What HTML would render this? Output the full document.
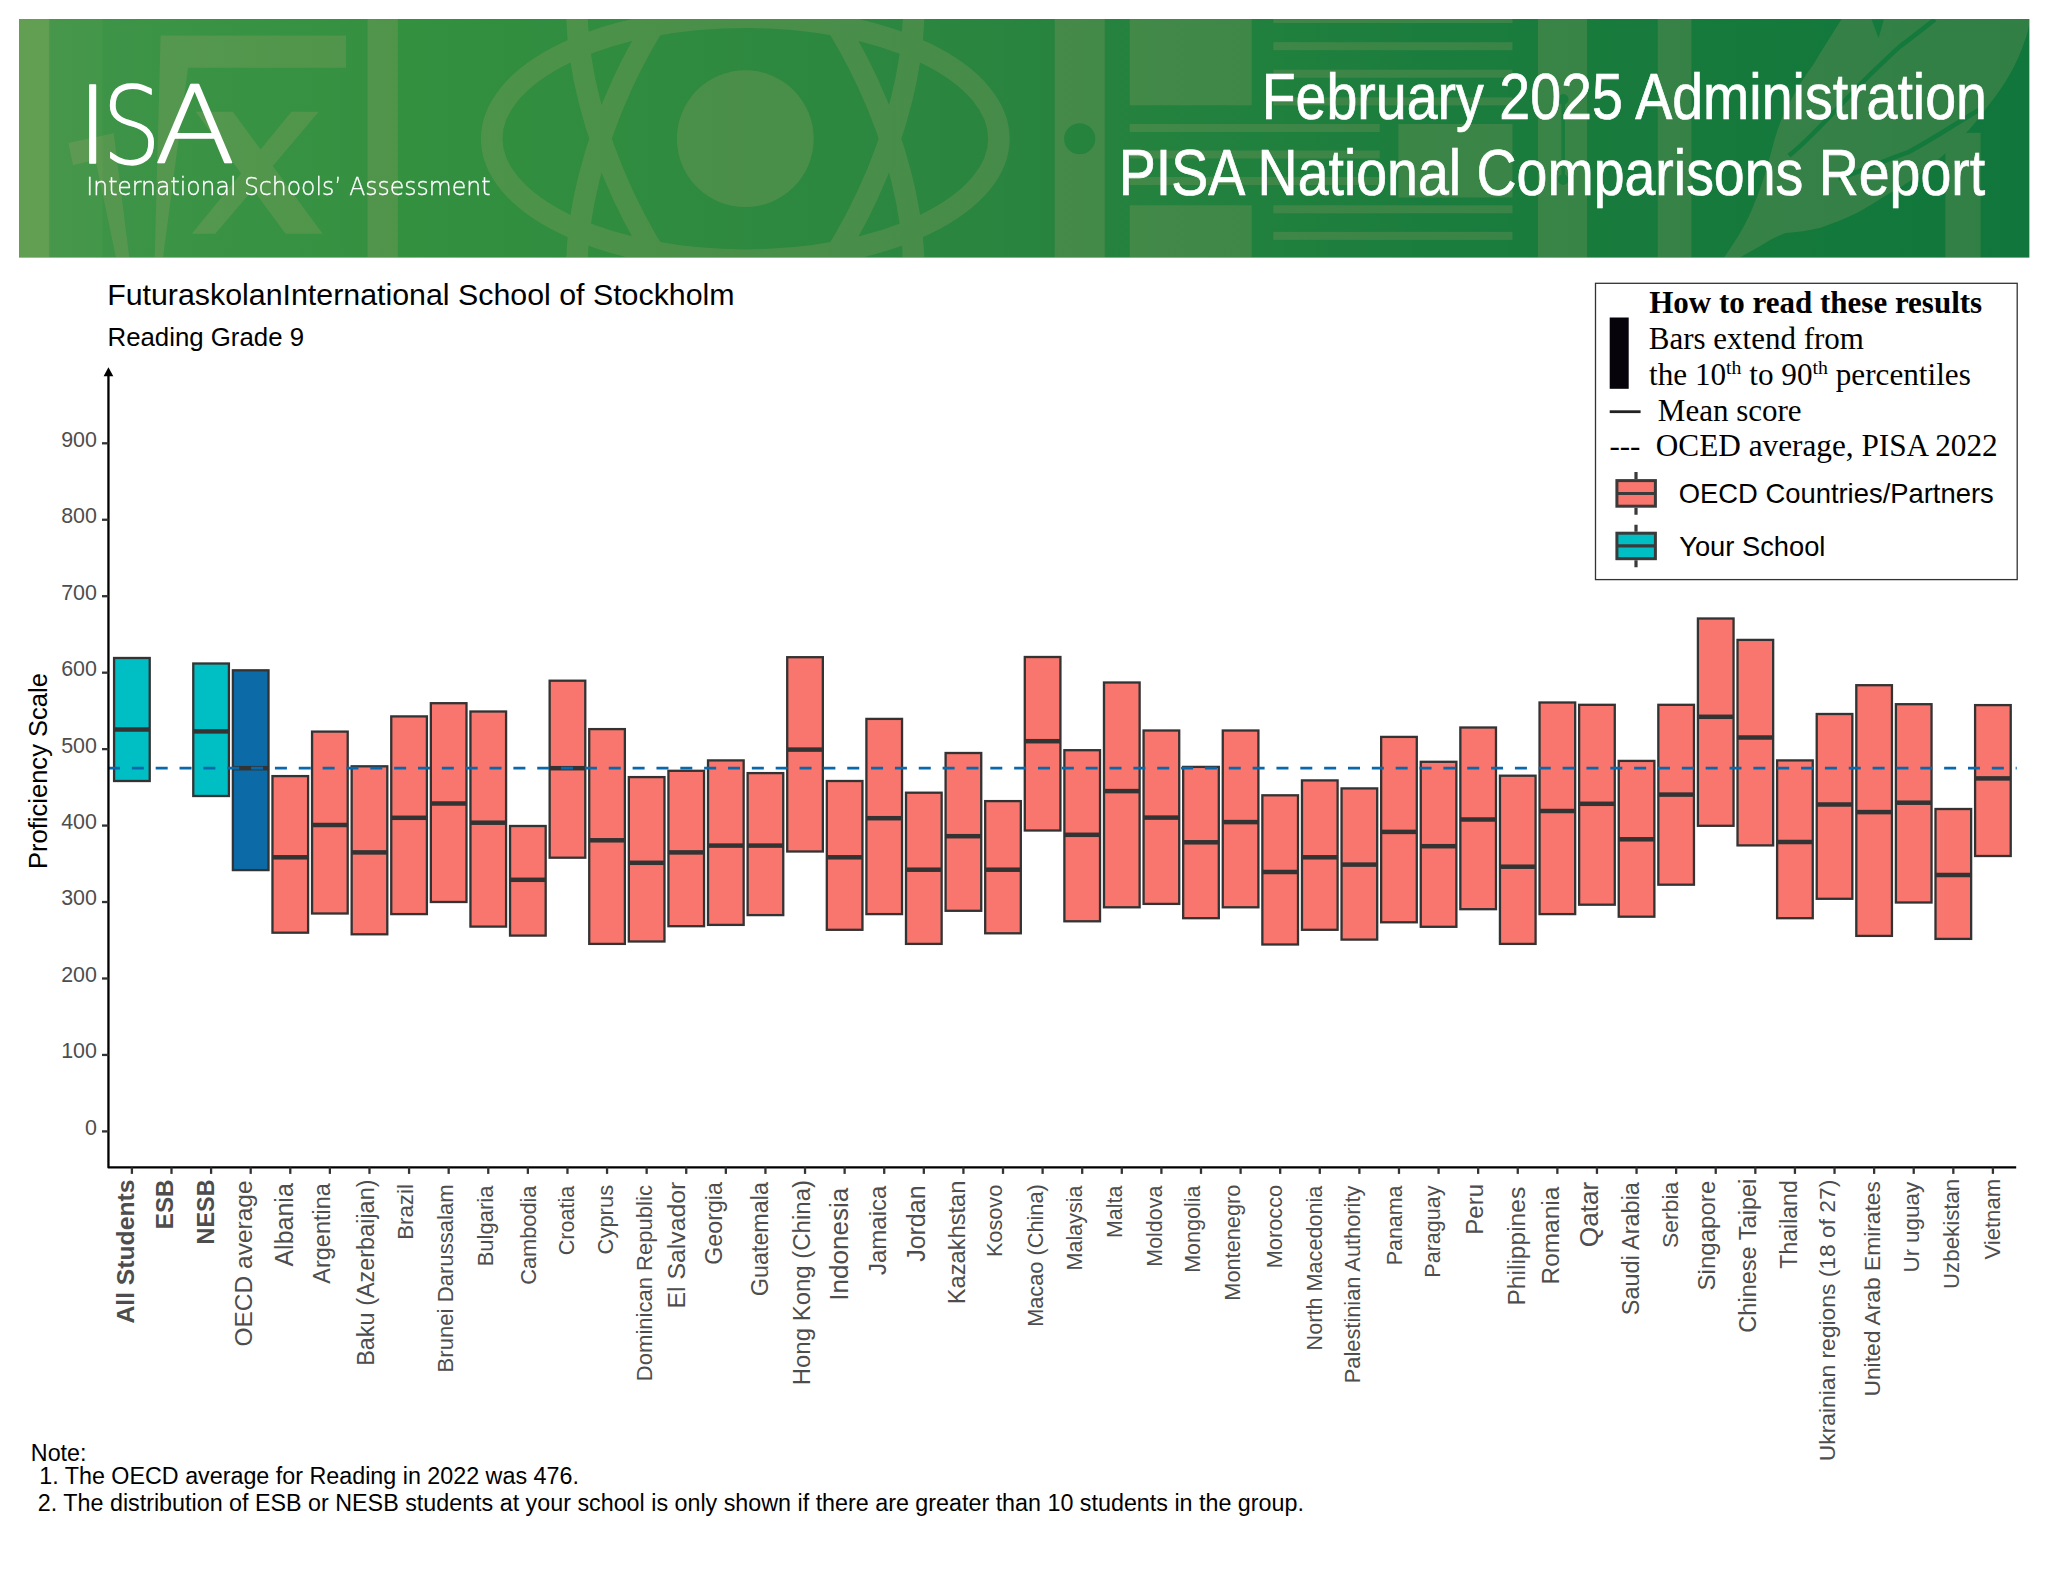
<!DOCTYPE html>
<html lang="en"><head><meta charset="utf-8"><title>PISA National Comparisons Report</title>
<style>html,body{margin:0;padding:0;background:#fff}svg{display:block}text{font-family:"Liberation Sans", Arial, Helvetica, sans-serif}.sf{font-family:"Liberation Serif", "Times New Roman", serif}.xl{fill:#4d4d4d}.lt{font-family:"DejaVu Sans Light","DejaVu Sans","Liberation Sans", Arial, Helvetica, sans-serif;font-weight:200}</style></head><body>
<svg width="2048" height="1583" viewBox="0 0 2048 1583">
<rect width="2048" height="1583" fill="#fff"/>
<defs><linearGradient id="bg" x1="0" x2="1" y1="0" y2="0"><stop offset="0" stop-color="#40954a"/><stop offset="0.2" stop-color="#33903f"/><stop offset="0.45" stop-color="#2b863f"/><stop offset="0.7" stop-color="#1b7d3d"/><stop offset="1" stop-color="#10763b"/></linearGradient><clipPath id="bc"><rect x="19" y="19" width="2010.6" height="238.8"/></clipPath></defs>
<g clip-path="url(#bc)">
<rect x="19" y="19" width="2010.6" height="238.8" fill="url(#bg)"/>
<rect x="19" y="19" width="30.3" height="239" fill="#d6c070" fill-opacity="0.24"/>
<rect x="49.3" y="19" width="53" height="239" fill="#d6c070" fill-opacity="0.05"/>
<g opacity="0.185" fill="#c8aa78" stroke="none">
<path d="M68.4,143 L113.7,133.2 L129.3,257.8 L154.7,257.8 L160.6,35.6 L346,35.6 L346,67.8 L188,67.8 L163,257.8 L162,300 L125,300 L95.5,160 L73,165 Z"/>
<path d="M195.7,111.75 L232.8,111.75 L322.7,233.8 L285.6,233.8 Z M291.4,111.75 L318.8,111.75 L215.3,233.8 L191.8,233.8 Z"/>
<rect x="367.6" y="19" width="30.3" height="239"/>
<circle cx="745.3" cy="138.7" r="68.4"/>
<g fill="none" stroke="#c8aa78" stroke-width="21.5"><ellipse cx="745.3" cy="138.7" rx="253.6" ry="121.5"/>
<ellipse cx="745.3" cy="138.7" rx="275" ry="134.6" transform="rotate(65 745.3 138.7)"/>
<ellipse cx="745.3" cy="138.7" rx="275" ry="134.6" transform="rotate(-65 745.3 138.7)"/>
</g>
<path fill-rule="evenodd" d="M1054.7,19 H1104.7 V258 H1054.7 Z M1095.3,138.75 a15.6,15.6 0 1,0 -31.2,0 a15.6,15.6 0 1,0 31.2,0 Z"/>
<rect x="1129.7" y="19" width="121.9" height="86.3"/>
<rect x="1129.7" y="205.3" width="121.9" height="53"/>
<rect x="1129.7" y="124" width="250" height="8"/>
<rect x="1129.7" y="150.5" width="250" height="8"/>
<rect x="1129.7" y="177" width="250" height="8"/>
<rect x="1273.4" y="15" width="239.1" height="8"/>
<rect x="1273.4" y="42.2" width="239.1" height="8"/>
<rect x="1273.4" y="69.7" width="239.1" height="8"/>
<rect x="1273.4" y="97.4" width="239.1" height="8"/>
<rect x="1273.4" y="205.3" width="239.1" height="8"/>
<rect x="1273.4" y="231.9" width="239.1" height="8"/>
<rect x="1398.4" y="124" width="114.1" height="73.5"/>
<rect x="1538" y="19" width="49" height="239"/>
<rect x="1657.7" y="19" width="33.7" height="239"/>
<path d="M1723.9,257.8 C1740,235 1748,220 1753.8,204.8 C1760,190 1764,178 1767.9,164.4 C1772,150 1774,140 1778.4,127.5 C1783,115 1788,105 1794.3,94.1 C1800,84 1806,74 1813.6,64.2 C1822,50 1832,34 1841.7,19 L2029.6,19 C2029,28 2027,35 2024.5,41.4 C2021,52 2016,63 2010.5,73 C2004,85 1996,96 1987.6,106.4 C1980,117 1971,128 1961.2,138 C1950,150 1938,160 1926.1,169.7 C1915,178 1903,186 1890.9,192.5 C1880,199 1868,207 1855.8,213.6 C1844,219 1832,224 1820.6,227.7 C1808,231 1797,232 1785.5,233 C1777,236 1770,240 1764.4,243.5 C1755,249 1747,253 1739.8,257.8 Z"/>
<rect x="1945.4" y="132.8" width="35.2" height="126"/>
</g>
<g stroke="#13793c" stroke-width="4.6" fill="none" stroke-linecap="butt">
<path d="M1934.9,19.4 C1920,31 1909,40 1899.7,46.6 C1885,60 1875,70 1864.6,80 C1850,95 1838,108 1825.9,120.5 C1812,135 1800,147 1789,155.6"/>
<path d="M1838.2,178.5 C1865,170 1885,160 1908.5,152.1 C1935,138 1955,124 1978.8,109.9"/>
</g>
<path d="M1871.6,19.4 L1883.9,19.4 L1878.6,37.9 Z" fill="#13793c"/>
<g fill="#197d3d" stroke="#197d3d"><circle cx="1563.2" cy="99.3" r="5.3" stroke="none"/><circle cx="1563.2" cy="179.6" r="5.3" stroke="none"/><path d="M1563.2,99.3 V179.6" stroke-width="3.6" fill="none"/></g>
</g>
<text class="lt" y="162.6" font-size="107.1" fill="#fff" stroke="#fff" stroke-width="1.4" stroke-linejoin="round"><tspan x="76.46" textLength="32.5" lengthAdjust="spacingAndGlyphs">I</tspan><tspan x="102.2" textLength="58.7" lengthAdjust="spacingAndGlyphs">S</tspan><tspan x="154.55" textLength="80.9" lengthAdjust="spacingAndGlyphs">A</tspan></text>
<text class="lt" x="86.3" y="195" font-size="25.3" fill="#fff" stroke="#fff" stroke-width="0.35" textLength="404.1" lengthAdjust="spacingAndGlyphs">International Schools’ Assessment</text>
<text transform="translate(1986.97,118.90) scale(0.8677,1)" text-anchor="end" font-size="64" fill="#fff" stroke="#fff" stroke-width="0.7">February 2025 Administration</text>
<text transform="translate(1985.21,194.90) scale(0.8670,1)" text-anchor="end" font-size="64" fill="#fff" stroke="#fff" stroke-width="0.7">PISA National Comparisons Report</text>
<text x="107.17" y="305.30" font-size="30.35" fill="#000">FuturaskolanInternational School of Stockholm</text>
<text x="107.54" y="345.90" font-size="25.8" fill="#000">Reading Grade 9</text>
<rect x="1595.5" y="283.3" width="421.7" height="296.3" fill="#fff" stroke="#333" stroke-width="1.3"/>
<text x="1649.24" y="313.20" font-size="31" fill="#000" class="sf" font-weight="bold">How to read these results</text>
<text x="1648.77" y="349.20" font-size="31" fill="#000" class="sf">Bars extend from</text>
<text class="sf" x="1649" y="384.5" font-size="31.2">the 10<tspan font-size="19.8" dy="-10.5">th</tspan><tspan dy="10.5"> to 90</tspan><tspan font-size="19.8" dy="-10.5">th</tspan><tspan dy="10.5"> percentiles</tspan></text>
<text x="1657.87" y="420.60" font-size="31" fill="#000" class="sf">Mean score</text>
<text x="1655.75" y="455.90" font-size="31.25" fill="#000" class="sf">OCED average, PISA 2022</text>
<rect x="1609.7" y="317.5" width="19" height="71.3" fill="#06040a"/>
<rect x="1609.7" y="410.3" width="30.9" height="2.8" fill="#222"/>
<text class="sf" x="1609.4" y="455.9" font-size="31">---</text>
<path d="M1636,472.1 V479.1 M1636,507.7 V514.7" stroke="#3a3a3a" stroke-width="3.2" fill="none"/>
<rect x="1616.9" y="480.6" width="38.5" height="25.6" fill="#F8766D" stroke="#3a3a3a" stroke-width="3"/>
<path d="M1616.9,493.5 H1655.4" stroke="#3a3a3a" stroke-width="3.2"/>
<path d="M1636,524.7 V531.7 M1636,560.2 V567.2" stroke="#3a3a3a" stroke-width="3.2" fill="none"/>
<rect x="1616.9" y="533.2" width="38.5" height="25.5" fill="#00BFC4" stroke="#3a3a3a" stroke-width="3"/>
<path d="M1616.9,545.8 H1655.4" stroke="#3a3a3a" stroke-width="3.2"/>
<text x="1678.67" y="503.10" font-size="27.4" fill="#000">OECD Countries/Partners</text>
<text x="1679.22" y="555.70" font-size="27.3" fill="#000">Your School</text>
<rect x="114.08" y="658.0" width="35.64" height="123.0" fill="#00BFC4" stroke="#333" stroke-width="2.3"/>
<rect x="114.08" y="727.25" width="35.64" height="4.5" fill="#333"/>
<rect x="193.27" y="663.5" width="35.64" height="132.5" fill="#00BFC4" stroke="#333" stroke-width="2.3"/>
<rect x="193.27" y="729.15" width="35.64" height="4.5" fill="#333"/>
<rect x="232.87" y="670.3" width="35.64" height="199.8" fill="#0C6AA6" stroke="#333" stroke-width="2.3"/>
<rect x="232.87" y="765.95" width="35.64" height="4.5" fill="#333"/>
<rect x="272.46" y="776.1" width="35.64" height="156.6" fill="#F8766D" stroke="#333" stroke-width="2.3"/>
<rect x="272.46" y="855.05" width="35.64" height="4.5" fill="#333"/>
<rect x="312.06" y="731.6" width="35.64" height="181.9" fill="#F8766D" stroke="#333" stroke-width="2.3"/>
<rect x="312.06" y="822.75" width="35.64" height="4.5" fill="#333"/>
<rect x="351.66" y="766.3" width="35.64" height="168.0" fill="#F8766D" stroke="#333" stroke-width="2.3"/>
<rect x="351.66" y="850.15" width="35.64" height="4.5" fill="#333"/>
<rect x="391.25" y="716.4" width="35.64" height="197.7" fill="#F8766D" stroke="#333" stroke-width="2.3"/>
<rect x="391.25" y="815.55" width="35.64" height="4.5" fill="#333"/>
<rect x="430.85" y="703.2" width="35.64" height="198.8" fill="#F8766D" stroke="#333" stroke-width="2.3"/>
<rect x="430.85" y="801.25" width="35.64" height="4.5" fill="#333"/>
<rect x="470.44" y="711.5" width="35.64" height="215.1" fill="#F8766D" stroke="#333" stroke-width="2.3"/>
<rect x="470.44" y="820.45" width="35.64" height="4.5" fill="#333"/>
<rect x="510.04" y="826.0" width="35.64" height="109.6" fill="#F8766D" stroke="#333" stroke-width="2.3"/>
<rect x="510.04" y="877.55" width="35.64" height="4.5" fill="#333"/>
<rect x="549.64" y="680.7" width="35.64" height="177.0" fill="#F8766D" stroke="#333" stroke-width="2.3"/>
<rect x="549.64" y="765.95" width="35.64" height="4.5" fill="#333"/>
<rect x="589.23" y="729.1" width="35.64" height="214.8" fill="#F8766D" stroke="#333" stroke-width="2.3"/>
<rect x="589.23" y="838.05" width="35.64" height="4.5" fill="#333"/>
<rect x="628.83" y="777.1" width="35.64" height="164.4" fill="#F8766D" stroke="#333" stroke-width="2.3"/>
<rect x="628.83" y="860.55" width="35.64" height="4.5" fill="#333"/>
<rect x="668.42" y="770.8" width="35.64" height="155.4" fill="#F8766D" stroke="#333" stroke-width="2.3"/>
<rect x="668.42" y="850.15" width="35.64" height="4.5" fill="#333"/>
<rect x="708.02" y="760.4" width="35.64" height="164.5" fill="#F8766D" stroke="#333" stroke-width="2.3"/>
<rect x="708.02" y="843.35" width="35.64" height="4.5" fill="#333"/>
<rect x="747.62" y="773.1" width="35.64" height="142.0" fill="#F8766D" stroke="#333" stroke-width="2.3"/>
<rect x="747.62" y="843.35" width="35.64" height="4.5" fill="#333"/>
<rect x="787.21" y="657.2" width="35.64" height="194.3" fill="#F8766D" stroke="#333" stroke-width="2.3"/>
<rect x="787.21" y="747.35" width="35.64" height="4.5" fill="#333"/>
<rect x="826.81" y="781.0" width="35.64" height="148.8" fill="#F8766D" stroke="#333" stroke-width="2.3"/>
<rect x="826.81" y="855.05" width="35.64" height="4.5" fill="#333"/>
<rect x="866.40" y="718.9" width="35.64" height="195.2" fill="#F8766D" stroke="#333" stroke-width="2.3"/>
<rect x="866.40" y="815.95" width="35.64" height="4.5" fill="#333"/>
<rect x="906.00" y="792.7" width="35.64" height="151.2" fill="#F8766D" stroke="#333" stroke-width="2.3"/>
<rect x="906.00" y="867.45" width="35.64" height="4.5" fill="#333"/>
<rect x="945.60" y="753.0" width="35.64" height="157.8" fill="#F8766D" stroke="#333" stroke-width="2.3"/>
<rect x="945.60" y="833.95" width="35.64" height="4.5" fill="#333"/>
<rect x="985.19" y="801.1" width="35.64" height="132.2" fill="#F8766D" stroke="#333" stroke-width="2.3"/>
<rect x="985.19" y="867.45" width="35.64" height="4.5" fill="#333"/>
<rect x="1024.79" y="657.0" width="35.64" height="173.5" fill="#F8766D" stroke="#333" stroke-width="2.3"/>
<rect x="1024.79" y="738.95" width="35.64" height="4.5" fill="#333"/>
<rect x="1064.38" y="750.2" width="35.64" height="171.1" fill="#F8766D" stroke="#333" stroke-width="2.3"/>
<rect x="1064.38" y="832.55" width="35.64" height="4.5" fill="#333"/>
<rect x="1103.98" y="682.5" width="35.64" height="224.8" fill="#F8766D" stroke="#333" stroke-width="2.3"/>
<rect x="1103.98" y="788.85" width="35.64" height="4.5" fill="#333"/>
<rect x="1143.58" y="730.5" width="35.64" height="173.4" fill="#F8766D" stroke="#333" stroke-width="2.3"/>
<rect x="1143.58" y="815.35" width="35.64" height="4.5" fill="#333"/>
<rect x="1183.17" y="766.9" width="35.64" height="151.3" fill="#F8766D" stroke="#333" stroke-width="2.3"/>
<rect x="1183.17" y="840.05" width="35.64" height="4.5" fill="#333"/>
<rect x="1222.77" y="730.5" width="35.64" height="176.8" fill="#F8766D" stroke="#333" stroke-width="2.3"/>
<rect x="1222.77" y="819.85" width="35.64" height="4.5" fill="#333"/>
<rect x="1262.36" y="795.3" width="35.64" height="149.2" fill="#F8766D" stroke="#333" stroke-width="2.3"/>
<rect x="1262.36" y="869.75" width="35.64" height="4.5" fill="#333"/>
<rect x="1301.96" y="780.4" width="35.64" height="149.4" fill="#F8766D" stroke="#333" stroke-width="2.3"/>
<rect x="1301.96" y="855.05" width="35.64" height="4.5" fill="#333"/>
<rect x="1341.56" y="788.4" width="35.64" height="151.2" fill="#F8766D" stroke="#333" stroke-width="2.3"/>
<rect x="1341.56" y="862.35" width="35.64" height="4.5" fill="#333"/>
<rect x="1381.15" y="736.9" width="35.64" height="185.4" fill="#F8766D" stroke="#333" stroke-width="2.3"/>
<rect x="1381.15" y="829.65" width="35.64" height="4.5" fill="#333"/>
<rect x="1420.75" y="761.8" width="35.64" height="165.0" fill="#F8766D" stroke="#333" stroke-width="2.3"/>
<rect x="1420.75" y="843.95" width="35.64" height="4.5" fill="#333"/>
<rect x="1460.34" y="727.5" width="35.64" height="181.7" fill="#F8766D" stroke="#333" stroke-width="2.3"/>
<rect x="1460.34" y="817.25" width="35.64" height="4.5" fill="#333"/>
<rect x="1499.94" y="775.7" width="35.64" height="168.2" fill="#F8766D" stroke="#333" stroke-width="2.3"/>
<rect x="1499.94" y="864.45" width="35.64" height="4.5" fill="#333"/>
<rect x="1539.54" y="702.5" width="35.64" height="211.6" fill="#F8766D" stroke="#333" stroke-width="2.3"/>
<rect x="1539.54" y="808.75" width="35.64" height="4.5" fill="#333"/>
<rect x="1579.13" y="704.8" width="35.64" height="199.9" fill="#F8766D" stroke="#333" stroke-width="2.3"/>
<rect x="1579.13" y="801.55" width="35.64" height="4.5" fill="#333"/>
<rect x="1618.73" y="760.9" width="35.64" height="155.8" fill="#F8766D" stroke="#333" stroke-width="2.3"/>
<rect x="1618.73" y="837.05" width="35.64" height="4.5" fill="#333"/>
<rect x="1658.32" y="704.8" width="35.64" height="179.9" fill="#F8766D" stroke="#333" stroke-width="2.3"/>
<rect x="1658.32" y="792.35" width="35.64" height="4.5" fill="#333"/>
<rect x="1697.92" y="618.5" width="35.64" height="207.3" fill="#F8766D" stroke="#333" stroke-width="2.3"/>
<rect x="1697.92" y="714.55" width="35.64" height="4.5" fill="#333"/>
<rect x="1737.52" y="639.9" width="35.64" height="205.5" fill="#F8766D" stroke="#333" stroke-width="2.3"/>
<rect x="1737.52" y="735.25" width="35.64" height="4.5" fill="#333"/>
<rect x="1777.11" y="760.4" width="35.64" height="157.8" fill="#F8766D" stroke="#333" stroke-width="2.3"/>
<rect x="1777.11" y="839.75" width="35.64" height="4.5" fill="#333"/>
<rect x="1816.71" y="714.0" width="35.64" height="184.8" fill="#F8766D" stroke="#333" stroke-width="2.3"/>
<rect x="1816.71" y="802.25" width="35.64" height="4.5" fill="#333"/>
<rect x="1856.30" y="685.2" width="35.64" height="250.7" fill="#F8766D" stroke="#333" stroke-width="2.3"/>
<rect x="1856.30" y="809.85" width="35.64" height="4.5" fill="#333"/>
<rect x="1895.90" y="704.2" width="35.64" height="198.3" fill="#F8766D" stroke="#333" stroke-width="2.3"/>
<rect x="1895.90" y="800.45" width="35.64" height="4.5" fill="#333"/>
<rect x="1935.50" y="809.0" width="35.64" height="129.9" fill="#F8766D" stroke="#333" stroke-width="2.3"/>
<rect x="1935.50" y="872.75" width="35.64" height="4.5" fill="#333"/>
<rect x="1975.09" y="705.1" width="35.64" height="150.9" fill="#F8766D" stroke="#333" stroke-width="2.3"/>
<rect x="1975.09" y="776.15" width="35.64" height="4.5" fill="#333"/>
<path d="M108,768.2 H2016.7" stroke="#0868AC" stroke-width="2.7" stroke-dasharray="12 11.846" fill="none"/>
<path d="M108.45,374 V1167.4 H2016.2" stroke="#000" stroke-width="2.3" fill="none" stroke-linejoin="round"/>
<path d="M108.45,367.3 L113.3,376.3 H103.6 Z" fill="#000"/>
<path d="M102,1131.40 H108.4" stroke="#333" stroke-width="2.3"/>
<text x="96.87" y="1134.80" font-size="21.4" text-anchor="end" fill="#4d4d4d">0</text>
<path d="M102,1054.94 H108.4" stroke="#333" stroke-width="2.3"/>
<text x="96.92" y="1058.34" font-size="21.4" text-anchor="end" fill="#4d4d4d">100</text>
<path d="M102,978.49 H108.4" stroke="#333" stroke-width="2.3"/>
<text x="96.92" y="981.89" font-size="21.4" text-anchor="end" fill="#4d4d4d">200</text>
<path d="M102,902.03 H108.4" stroke="#333" stroke-width="2.3"/>
<text x="96.92" y="905.43" font-size="21.4" text-anchor="end" fill="#4d4d4d">300</text>
<path d="M102,825.58 H108.4" stroke="#333" stroke-width="2.3"/>
<text x="96.92" y="828.98" font-size="21.4" text-anchor="end" fill="#4d4d4d">400</text>
<path d="M102,749.12 H108.4" stroke="#333" stroke-width="2.3"/>
<text x="96.92" y="752.52" font-size="21.4" text-anchor="end" fill="#4d4d4d">500</text>
<path d="M102,672.66 H108.4" stroke="#333" stroke-width="2.3"/>
<text x="96.92" y="676.06" font-size="21.4" text-anchor="end" fill="#4d4d4d">600</text>
<path d="M102,596.21 H108.4" stroke="#333" stroke-width="2.3"/>
<text x="96.92" y="599.61" font-size="21.4" text-anchor="end" fill="#4d4d4d">700</text>
<path d="M102,519.75 H108.4" stroke="#333" stroke-width="2.3"/>
<text x="96.92" y="523.15" font-size="21.4" text-anchor="end" fill="#4d4d4d">800</text>
<path d="M102,443.30 H108.4" stroke="#333" stroke-width="2.3"/>
<text x="96.92" y="446.70" font-size="21.4" text-anchor="end" fill="#4d4d4d">900</text>
<path d="M131.90,1167.4 V1173.9" stroke="#333" stroke-width="2.3"/>
<path d="M171.50,1167.4 V1173.9" stroke="#333" stroke-width="2.3"/>
<path d="M211.09,1167.4 V1173.9" stroke="#333" stroke-width="2.3"/>
<path d="M250.69,1167.4 V1173.9" stroke="#333" stroke-width="2.3"/>
<path d="M290.28,1167.4 V1173.9" stroke="#333" stroke-width="2.3"/>
<path d="M329.88,1167.4 V1173.9" stroke="#333" stroke-width="2.3"/>
<path d="M369.48,1167.4 V1173.9" stroke="#333" stroke-width="2.3"/>
<path d="M409.07,1167.4 V1173.9" stroke="#333" stroke-width="2.3"/>
<path d="M448.67,1167.4 V1173.9" stroke="#333" stroke-width="2.3"/>
<path d="M488.26,1167.4 V1173.9" stroke="#333" stroke-width="2.3"/>
<path d="M527.86,1167.4 V1173.9" stroke="#333" stroke-width="2.3"/>
<path d="M567.46,1167.4 V1173.9" stroke="#333" stroke-width="2.3"/>
<path d="M607.05,1167.4 V1173.9" stroke="#333" stroke-width="2.3"/>
<path d="M646.65,1167.4 V1173.9" stroke="#333" stroke-width="2.3"/>
<path d="M686.24,1167.4 V1173.9" stroke="#333" stroke-width="2.3"/>
<path d="M725.84,1167.4 V1173.9" stroke="#333" stroke-width="2.3"/>
<path d="M765.44,1167.4 V1173.9" stroke="#333" stroke-width="2.3"/>
<path d="M805.03,1167.4 V1173.9" stroke="#333" stroke-width="2.3"/>
<path d="M844.63,1167.4 V1173.9" stroke="#333" stroke-width="2.3"/>
<path d="M884.22,1167.4 V1173.9" stroke="#333" stroke-width="2.3"/>
<path d="M923.82,1167.4 V1173.9" stroke="#333" stroke-width="2.3"/>
<path d="M963.42,1167.4 V1173.9" stroke="#333" stroke-width="2.3"/>
<path d="M1003.01,1167.4 V1173.9" stroke="#333" stroke-width="2.3"/>
<path d="M1042.61,1167.4 V1173.9" stroke="#333" stroke-width="2.3"/>
<path d="M1082.20,1167.4 V1173.9" stroke="#333" stroke-width="2.3"/>
<path d="M1121.80,1167.4 V1173.9" stroke="#333" stroke-width="2.3"/>
<path d="M1161.40,1167.4 V1173.9" stroke="#333" stroke-width="2.3"/>
<path d="M1200.99,1167.4 V1173.9" stroke="#333" stroke-width="2.3"/>
<path d="M1240.59,1167.4 V1173.9" stroke="#333" stroke-width="2.3"/>
<path d="M1280.18,1167.4 V1173.9" stroke="#333" stroke-width="2.3"/>
<path d="M1319.78,1167.4 V1173.9" stroke="#333" stroke-width="2.3"/>
<path d="M1359.38,1167.4 V1173.9" stroke="#333" stroke-width="2.3"/>
<path d="M1398.97,1167.4 V1173.9" stroke="#333" stroke-width="2.3"/>
<path d="M1438.57,1167.4 V1173.9" stroke="#333" stroke-width="2.3"/>
<path d="M1478.16,1167.4 V1173.9" stroke="#333" stroke-width="2.3"/>
<path d="M1517.76,1167.4 V1173.9" stroke="#333" stroke-width="2.3"/>
<path d="M1557.36,1167.4 V1173.9" stroke="#333" stroke-width="2.3"/>
<path d="M1596.95,1167.4 V1173.9" stroke="#333" stroke-width="2.3"/>
<path d="M1636.55,1167.4 V1173.9" stroke="#333" stroke-width="2.3"/>
<path d="M1676.14,1167.4 V1173.9" stroke="#333" stroke-width="2.3"/>
<path d="M1715.74,1167.4 V1173.9" stroke="#333" stroke-width="2.3"/>
<path d="M1755.34,1167.4 V1173.9" stroke="#333" stroke-width="2.3"/>
<path d="M1794.93,1167.4 V1173.9" stroke="#333" stroke-width="2.3"/>
<path d="M1834.53,1167.4 V1173.9" stroke="#333" stroke-width="2.3"/>
<path d="M1874.12,1167.4 V1173.9" stroke="#333" stroke-width="2.3"/>
<path d="M1913.72,1167.4 V1173.9" stroke="#333" stroke-width="2.3"/>
<path d="M1953.32,1167.4 V1173.9" stroke="#333" stroke-width="2.3"/>
<path d="M1992.91,1167.4 V1173.9" stroke="#333" stroke-width="2.3"/>
<text transform="translate(47.1,869.04) rotate(-90)" font-size="25.55" fill="#000">Proficiency Scale</text>
<text class="xl" transform="translate(133.80,1179.54) rotate(-90)" text-anchor="end" font-size="24.70" font-weight="bold">All Students</text>
<text class="xl" transform="translate(172.80,1179.38) rotate(-90)" text-anchor="end" font-size="24.27" font-weight="bold">ESB</text>
<text class="xl" transform="translate(213.80,1179.36) rotate(-90)" text-anchor="end" font-size="23.45" font-weight="bold">NESB</text>
<text class="xl" transform="translate(251.80,1180.37) rotate(-90)" text-anchor="end" font-size="24.53">OECD average</text>
<text class="xl" transform="translate(292.80,1183.17) rotate(-90)" text-anchor="end" font-size="25.01">Albania</text>
<text class="xl" transform="translate(329.70,1183.18) rotate(-90)" text-anchor="end" font-size="23.48">Argentina</text>
<text class="xl" transform="translate(373.80,1179.51) rotate(-90)" text-anchor="end" font-size="23.45">Baku (Azerbaijan)</text>
<text class="xl" transform="translate(412.80,1184.14) rotate(-90)" text-anchor="end" font-size="22.25">Brazil</text>
<text class="xl" transform="translate(453.20,1184.19) rotate(-90)" text-anchor="end" font-size="22.15">Brunei Darussalam</text>
<text class="xl" transform="translate(492.70,1185.62) rotate(-90)" text-anchor="end" font-size="22.01">Bulgaria</text>
<text class="xl" transform="translate(535.50,1185.53) rotate(-90)" text-anchor="end" font-size="21.78">Cambodia</text>
<text class="xl" transform="translate(574.10,1185.63) rotate(-90)" text-anchor="end" font-size="21.64">Croatia</text>
<text class="xl" transform="translate(613.10,1184.89) rotate(-90)" text-anchor="end" font-size="21.94">Cyprus</text>
<text class="xl" transform="translate(652.00,1185.08) rotate(-90)" text-anchor="end" font-size="22.05">Dominican Republic</text>
<text class="xl" transform="translate(684.80,1181.63) rotate(-90)" text-anchor="end" font-size="24.83">El Salvador</text>
<text class="xl" transform="translate(721.70,1182.04) rotate(-90)" text-anchor="end" font-size="23.25">Georgia</text>
<text class="xl" transform="translate(767.90,1182.06) rotate(-90)" text-anchor="end" font-size="23.33">Guatemala</text>
<text class="xl" transform="translate(809.90,1180.04) rotate(-90)" text-anchor="end" font-size="23.99">Hong Kong (China)</text>
<text class="xl" transform="translate(847.90,1187.65) rotate(-90)" text-anchor="end" font-size="26.08">Indonesia</text>
<text class="xl" transform="translate(885.80,1185.63) rotate(-90)" text-anchor="end" font-size="24.04">Jamaica</text>
<text class="xl" transform="translate(925.10,1185.41) rotate(-90)" text-anchor="end" font-size="25.01">Jordan</text>
<text class="xl" transform="translate(965.10,1180.54) rotate(-90)" text-anchor="end" font-size="23.70">Kazakhstan</text>
<text class="xl" transform="translate(1002.40,1184.72) rotate(-90)" text-anchor="end" font-size="21.71">Kosovo</text>
<text class="xl" transform="translate(1043.00,1184.22) rotate(-90)" text-anchor="end" font-size="21.75">Macao (China)</text>
<text class="xl" transform="translate(1082.00,1185.58) rotate(-90)" text-anchor="end" font-size="21.50">Malaysia</text>
<text class="xl" transform="translate(1122.40,1185.59) rotate(-90)" text-anchor="end" font-size="21.44">Malta</text>
<text class="xl" transform="translate(1162.00,1185.60) rotate(-90)" text-anchor="end" font-size="21.46">Moldova</text>
<text class="xl" transform="translate(1199.90,1185.53) rotate(-90)" text-anchor="end" font-size="21.53">Mongolia</text>
<text class="xl" transform="translate(1239.90,1184.68) rotate(-90)" text-anchor="end" font-size="21.74">Montenegro</text>
<text class="xl" transform="translate(1281.60,1184.74) rotate(-90)" text-anchor="end" font-size="21.80">Morocco</text>
<text class="xl" transform="translate(1322.30,1185.59) rotate(-90)" text-anchor="end" font-size="21.65">North Macedonia</text>
<text class="xl" transform="translate(1359.60,1185.57) rotate(-90)" text-anchor="end" font-size="21.82">Palestinian Authority</text>
<text class="xl" transform="translate(1401.90,1185.61) rotate(-90)" text-anchor="end" font-size="21.40">Panama</text>
<text class="xl" transform="translate(1439.60,1185.58) rotate(-90)" text-anchor="end" font-size="21.50">Paraguay</text>
<text class="xl" transform="translate(1483.30,1183.98) rotate(-90)" text-anchor="end" font-size="24.02">Peru</text>
<text class="xl" transform="translate(1525.30,1186.80) rotate(-90)" text-anchor="end" font-size="24.56">Philippines</text>
<text class="xl" transform="translate(1559.20,1186.65) rotate(-90)" text-anchor="end" font-size="24.46">Romania</text>
<text class="xl" transform="translate(1598.10,1181.68) rotate(-90)" text-anchor="end" font-size="26.23">Qatar</text>
<text class="xl" transform="translate(1639.20,1182.07) rotate(-90)" text-anchor="end" font-size="23.48">Saudi Arabia</text>
<text class="xl" transform="translate(1677.60,1181.78) rotate(-90)" text-anchor="end" font-size="22.88">Serbia</text>
<text class="xl" transform="translate(1715.20,1180.73) rotate(-90)" text-anchor="end" font-size="24.07">Singapore</text>
<text class="xl" transform="translate(1756.30,1178.63) rotate(-90)" text-anchor="end" font-size="23.55">Chinese Taipei</text>
<text class="xl" transform="translate(1797.10,1180.28) rotate(-90)" text-anchor="end" font-size="23.04">Thailand</text>
<text class="xl" transform="translate(1835.10,1179.71) rotate(-90)" text-anchor="end" font-size="22.82">Ukrainian regions (18 of 27)</text>
<text class="xl" transform="translate(1879.60,1181.02) rotate(-90)" text-anchor="end" font-size="22.82">United Arab Emirates</text>
<text class="xl" transform="translate(1919.00,1181.80) rotate(-90)" text-anchor="end" font-size="22.50">Ur<tspan dx="5.6">uguay</tspan></text>
<text class="xl" transform="translate(1959.00,1178.71) rotate(-90)" text-anchor="end" font-size="22.31">Uzbekistan</text>
<text class="xl" transform="translate(1999.90,1178.86) rotate(-90)" text-anchor="end" font-size="22.12">Vietnam</text>
<text x="30.84" y="1460.50" font-size="23.3" fill="#000">Note:</text>
<text x="39.25" y="1484.00" font-size="23.3" fill="#000">1. The OECD average for Reading in 2022 was 476.</text>
<text x="37.84" y="1511.20" font-size="23.3" fill="#000">2. The distribution of ESB or NESB students at your school is only shown if there are greater than 10 students in the group.</text>
</svg></body></html>
